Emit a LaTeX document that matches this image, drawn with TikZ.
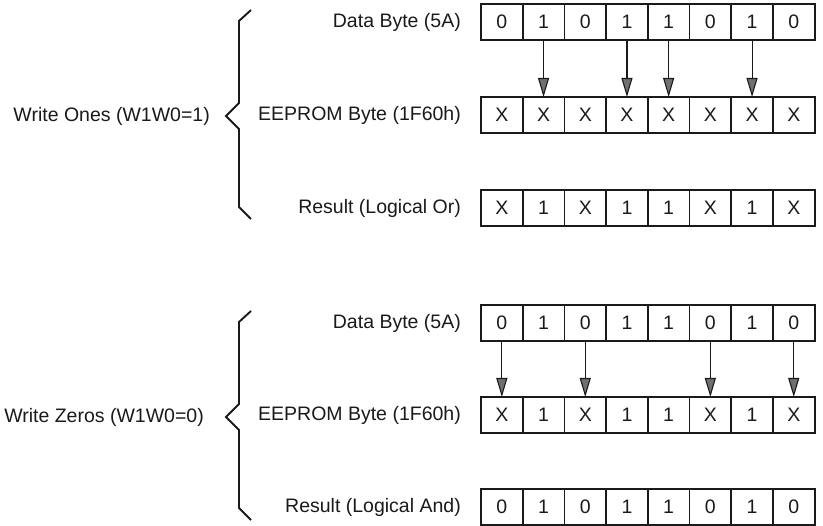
\documentclass[tikz,border=0pt]{standalone}
\usepackage{fontspec}
\setmainfont{Liberation Sans}
\usetikzlibrary{arrows.meta,calc}
\definecolor{wbInk}{HTML}{1A1A1A}
\definecolor{wbHead}{HTML}{707070}

\begin{document}
\begin{tikzpicture}[
  x=1pt, y=-1pt,
  font=\fontsize{19.5}{23}\selectfont,
  cell/.style = {draw=wbInk, line width=1.8pt, fill=white, text=wbInk,
                 minimum width=41.7pt, minimum height=36pt,
                 inner sep=0pt, outer sep=0pt},
  rlbl/.style = {anchor=east, inner sep=0pt, text=wbInk},
  arr/.style  = {-{Triangle[length=19pt, width=11pt, fill=wbHead]},
                 line width=1.1pt, draw=wbInk},
  brc/.style  = {line width=1.9pt, draw=wbInk, line join=miter},
]
\path[use as bounding box, fill=white] (0,0) rectangle (823,526);

%── Write ones ────────────────────────────────────────────────────────────────
\foreach \b [count=\i] in {0,1,0,1,1,0,1,0}
  \node[cell] (da\i) at ({481+41.7*\i-20.85}, 22) {\b};
\foreach \b [count=\i] in {X,X,X,X,X,X,X,X}
  \node[cell] (ea\i) at ({481+41.7*\i-20.85}, 115) {\b};
\foreach \b [count=\i] in {X,1,X,1,1,X,1,X}
  \node[cell] (ra\i) at ({481+41.7*\i-20.85}, 208) {\b};

\foreach \i in {2,4,5,7}
  \draw[arr] (da\i.south) -- (ea\i.north);

\node[rlbl] (tdatA) at (461,22)  {Data Byte (5A)};
\node[rlbl] (teepA) at (461,115) {EEPROM Byte (1F60h)};
\node[rlbl] (tresA) at (461,208) {Result (Logical Or)};

\coordinate (bA) at (226,116);
\draw[brc] ($(bA)+(25,-106)$) -- ++(-12,11) -- ++(0,82) -- (bA)
    -- ++(13,13) -- ++(0,78) -- ++(12,12);
\node[rlbl] (modeA) at ($(bA)+(-16,0)$) {Write Ones (W1W0=1)};

%── Write zeros ───────────────────────────────────────────────────────────────
\foreach \b [count=\i] in {0,1,0,1,1,0,1,0}
  \node[cell] (db\i) at ({481+41.7*\i-20.85}, 323) {\b};
\foreach \b [count=\i] in {X,1,X,1,1,X,1,X}
  \node[cell] (eb\i) at ({481+41.7*\i-20.85}, 415) {\b};
\foreach \b [count=\i] in {0,1,0,1,1,0,1,0}
  \node[cell] (rb\i) at ({481+41.7*\i-20.85}, 507) {\b};

\foreach \i in {1,3,6,8}
  \draw[arr] (db\i.south) -- (eb\i.north);

\node[rlbl] (tdatB) at (461,323) {Data Byte (5A)};
\node[rlbl] (teepB) at (461,415) {EEPROM Byte (1F60h)};
\node[rlbl] (tresB) at (461,507) {Result (Logical And)};

\coordinate (bB) at (226,417);
\draw[brc] ($(bB)+(25,-106)$) -- ++(-12,11) -- ++(0,82) -- (bB)
    -- ++(13,13) -- ++(0,78) -- ++(12,12);
\node[rlbl] (modeB) at ($(bB)+(-22,0)$) {Write Zeros (W1W0=0)};

\end{tikzpicture}
\end{document}
